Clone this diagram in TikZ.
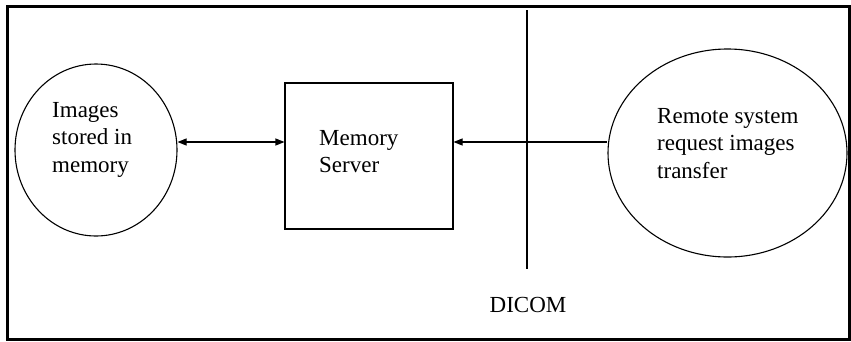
\documentclass[tikz,border=0pt]{standalone}
\usepackage{fontspec}
\setmainfont{Liberation Serif}
\usetikzlibrary{shapes.geometric,arrows.meta}
\begin{document}
\begin{tikzpicture}[x=1pt,y=-1pt,
  thin line/.style={draw=black,line width=1.1pt},
  label text/.style={font=\fontsize{23}{27.5}\selectfont,align=left,inner sep=0pt,anchor=north west},
  tip/.style={-{Triangle[length=9pt,width=7pt]}},
  dtip/.style={{Triangle[length=9pt,width=7pt]}-{Triangle[length=9pt,width=7pt]}}]
\useasboundingbox (0,0) rectangle (851,341);
\draw[line width=3pt] (7.5,6) rectangle (849.5,339.5);
% shapes
\node[thin line,ellipse,minimum width=162pt,minimum height=172pt,inner sep=0pt] (imgs) at (96,150) {};
\node[thin line,rectangle,minimum width=168pt,minimum height=146pt,inner sep=0pt] (srv) at (369,156) {};
\node[thin line,ellipse,minimum width=239pt,minimum height=208pt,inner sep=0pt] (remote) at (727.5,153) {};
% texts
\node[label text] (t1) at (52,102) {Images\\stored in\\memory};
\node[label text] (t2) at (319,130) {Memory\\Server};
\node[label text] (t3) at (657,108) {Remote system\\request images\\transfer};
\node[font=\fontsize{23}{27.5}\selectfont,inner sep=0pt] (dicom) at (528,305) {DICOM};
% DICOM line
\coordinate (dtop) at (527,10);
\coordinate (dbot) at (527,269);
\draw[line width=1.1pt] (dtop) -- (dbot);
% connectors
\coordinate (ay) at (0,142);
\draw[line width=1.1pt,dtip] (imgs.east |- ay) -- (srv.west |- ay);
\draw[line width=1.1pt,tip] (remote.west |- ay) -- (srv.east |- ay);
\end{tikzpicture}
\end{document}
